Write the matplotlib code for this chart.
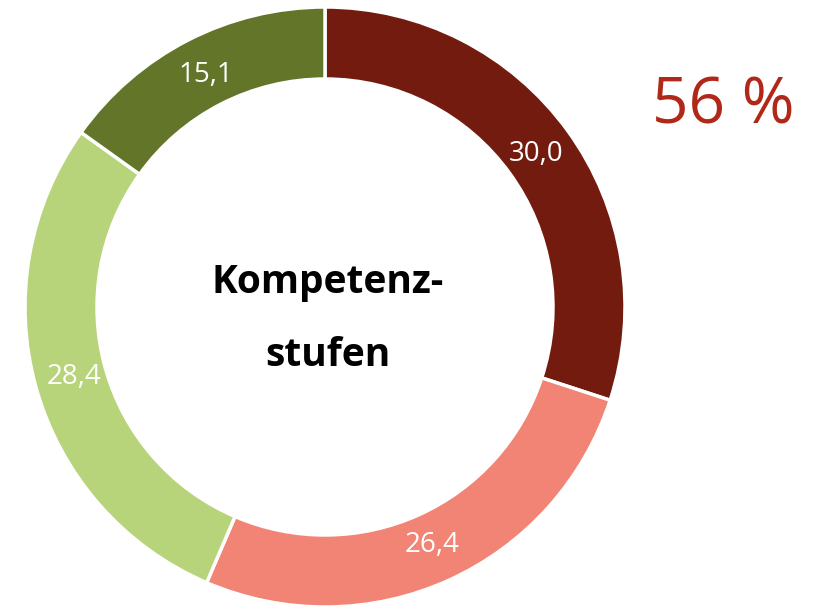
import matplotlib
matplotlib.use("Agg")
import matplotlib.pyplot as plt

categories = ["Stufe 1", "Stufe 2", "Stufe 3", "Stufe 4"]
values = [30.0, 26.4, 28.4, 15.1]
labels = ["30,0", "26,4", "28,4", "15,1"]
colors = ["#741B0F", "#F18474", "#B8D47A", "#627529"]
center_text = "Kompetenz-\nstufen"
big_text = "56 %"

plt.rcParams['font.family'] = ['Open Sans', 'DejaVu Sans']

fig = plt.figure(figsize=(8.17, 6.06), dpi=100)
ax = fig.add_axes([25/817, -1/606, 600/817, 600/606])
wedges, texts = ax.pie(values, labels=labels, colors=colors, startangle=90,
                       counterclock=False, radius=1.0, labeldistance=0.87,
                       wedgeprops=dict(width=0.24, edgecolor="white", linewidth=2.5),
                       textprops=dict(color="white", fontsize=20))
for t in texts:
    t.set_horizontalalignment("center")
    t.set_verticalalignment("center")
ax.set_xlim(-1, 1)
ax.set_ylim(-1, 1)
ax.set_aspect("equal")
ax.axis("off")
ax.text(0.01, -0.04, center_text, ha="center", va="center", fontsize=28,
        fontweight="bold", color="black", linespacing=2.1)
fig.text(723/817, 1 - 106/606, big_text, ha="center", va="center",
         fontsize=46, color="#B02818")
fig.savefig("out.png", dpi=100)
